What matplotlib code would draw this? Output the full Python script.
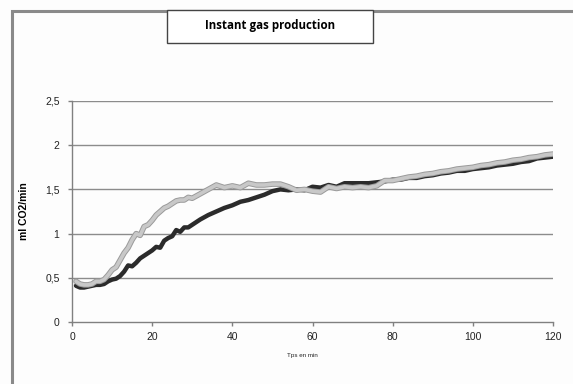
import matplotlib
matplotlib.use("Agg")
import matplotlib.pyplot as plt
import matplotlib.patheffects as pe
from matplotlib.patches import Rectangle

time_dark = [1,2,3,4,5,6,7,8,9,10,11,12,13,14,15,16,17,18,19,20,21,22,23,24,25,26,27,28,29,30,
             32,34,36,38,40,42,44,46,48,50,52,54,56,58,60,62,64,66,68,70,72,74,76,78,80,82,84,86,88,90,
             92,94,96,98,100,102,104,106,108,110,112,114,116,118,120]
dark = [0.41,0.39,0.39,0.40,0.41,0.42,0.42,0.43,0.46,0.48,0.49,0.52,0.57,0.64,0.63,0.67,0.72,0.75,0.78,0.81,
        0.85,0.84,0.92,0.95,0.97,1.04,1.02,1.07,1.07,1.10,
        1.16,1.21,1.25,1.29,1.32,1.36,1.38,1.41,1.44,1.48,1.50,1.49,1.50,1.49,1.53,1.52,1.55,1.53,1.57,1.57,
        1.57,1.57,1.58,1.59,1.61,1.61,1.63,1.63,1.65,1.66,1.68,1.69,1.71,1.71,1.73,1.74,1.75,1.77,1.78,1.79,
        1.81,1.82,1.85,1.86,1.87]
time_light = time_dark
light = [0.46,0.43,0.42,0.42,0.43,0.46,0.46,0.48,0.53,0.59,0.62,0.70,0.78,0.84,0.93,1.00,0.98,1.08,1.10,1.15,
         1.21,1.25,1.29,1.31,1.34,1.37,1.38,1.38,1.41,1.40,
         1.45,1.50,1.55,1.52,1.54,1.52,1.57,1.55,1.55,1.56,1.56,1.53,1.49,1.50,1.48,1.47,1.53,1.51,1.53,1.52,
         1.53,1.52,1.54,1.60,1.60,1.62,1.64,1.65,1.67,1.68,1.70,1.71,1.73,1.74,1.75,1.77,1.78,1.80,1.81,1.83,
         1.84,1.86,1.87,1.89,1.90]
yticks = [0, 0.5, 1, 1.5, 2, 2.5]
ytick_labels = ["0", "0,5", "1", "1,5", "2", "2,5"]
xticks = [0, 20, 40, 60, 80, 100, 120]

W, H = 573, 384
fig = plt.figure(figsize=(W/100, H/100), dpi=100)
fig.patch.set_facecolor("#fdfdfd")

# outer frame
fig.patches.append(Rectangle((12/W, -0.05), 1.0, (384-11)/H + 0.05, transform=fig.transFigure,
                             fill=False, edgecolor="#8a8a8a", linewidth=2.2, zorder=0))

ax = fig.add_axes([72/W, (H-322)/H, (553-72)/W, (322-101)/H])
ax.set_facecolor("none")
ax.set_xlim(0, 120)
ax.set_ylim(0, 2.5)
for y in yticks[1:]:
    ax.axhline(y, color="#8c8c8c", linewidth=1.0, zorder=1)

ax.plot(time_dark, dark, color="#2b2b2b", linewidth=3.2, solid_capstyle="round", zorder=3)
ax.plot(time_light, light, color="#c8c8c8", linewidth=2.6, solid_capstyle="round", zorder=4,
        path_effects=[pe.Stroke(linewidth=4.0, foreground="#9a9a9a"), pe.Normal()])

for s in ["top", "right"]:
    ax.spines[s].set_visible(False)
for s in ["left", "bottom"]:
    ax.spines[s].set_color("#808080")
    ax.spines[s].set_linewidth(1.0)

ax.set_yticks(yticks)
ax.set_yticklabels(ytick_labels)
ax.set_xticks(xticks)
ax.tick_params(axis="both", direction="out", length=3, width=1, color="#808080",
               labelsize=7.5, labelcolor="#222222")
for lab in ax.get_xticklabels() + ax.get_yticklabels():
    lab.set_family("Liberation Sans")
ax.tick_params(axis="y", pad=6)
ax.tick_params(axis="x", pad=4)

ax.set_ylabel("ml CO2/min", fontsize=7.5, fontweight="bold", family="Liberation Sans")
ax.yaxis.set_label_coords(-0.09, 0.5)
fig.text(302/W, 1 - 356/H, "Tps en min", fontsize=4.5, family="Liberation Sans",
         ha="center", va="center", color="#222222")

# title box
fig.patches.append(Rectangle((167/W, 1 - 43/H), (373-167)/W, 33/H, transform=fig.transFigure,
                             facecolor="white", edgecolor="#444444", linewidth=1.0, zorder=5))
fig.text(270/W, 1 - 26/H, "Instant gas production", fontsize=8.3, fontweight="bold",
         family="Open Sans", ha="center", va="center", zorder=6)

fig.savefig("out.png", dpi=100, facecolor=fig.get_facecolor())
